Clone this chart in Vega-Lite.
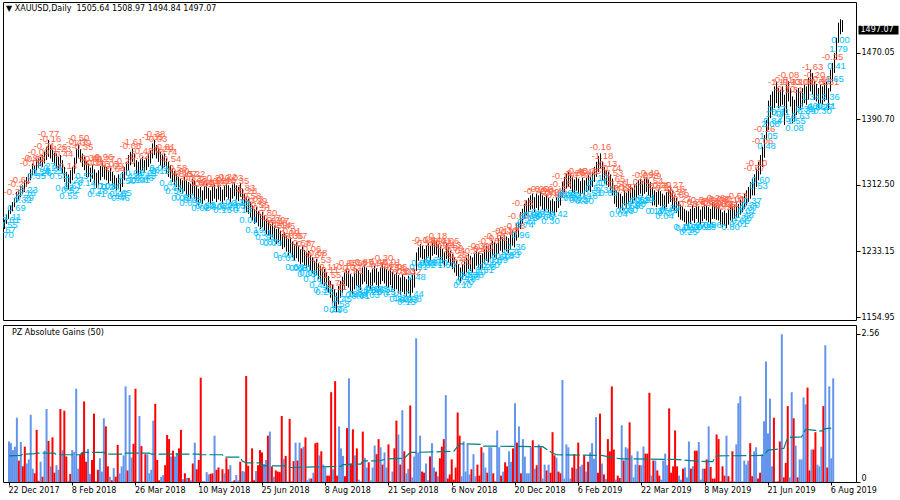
{
"$schema":"https://vega.github.io/schema/vega-lite/v6.json",
"padding":{"left":2,"top":1,"right":0,"bottom":0},
"background":"white",
"config":{"view":{"stroke":"black","strokeWidth":1},"axis":{"labelFont":"DejaVu Sans","labelFontSize":8,"labelColor":"black","tickColor":"black","domainColor":"black","grid":false},"concat":{"spacing":2}},
"datasets":{
"bars":[
{"i":0,"h":1271,"l":1260,"g":0.70,"s":"b"},{"i":1,"h":1277,"l":1266,"g":0.67,"s":"b"},{"i":2,"h":1283,"l":1272,"g":0.55,"s":"b"},{"i":3,"h":1288,"l":1278,"g":0.61,"s":"b"},{"i":4,"h":1292,"l":1281,"g":1.11,"s":"b"},{"i":5,"h":1297,"l":1286,"g":0.37,"s":"r"},{"i":6,"h":1304,"l":1292,"g":0.69,"s":"b"},{"i":7,"h":1306,"l":1295,"g":0.27,"s":"r"},{"i":8,"h":1311,"l":1298,"g":0.61,"s":"r"},{"i":9,"h":1312,"l":1302,"g":0.32,"s":"b"},
{"i":10,"h":1318,"l":1304,"g":0.39,"s":"b"},{"i":11,"h":1322,"l":1310,"g":1.16,"s":"b"},{"i":12,"h":1326,"l":1314,"g":0.23,"s":"b"},{"i":13,"h":1331,"l":1318,"g":0.15,"s":"r"},{"i":14,"h":1338,"l":1324,"g":0.90,"s":"r"},{"i":15,"h":1336,"l":1326,"g":0.02,"s":"r"},{"i":16,"h":1343,"l":1330,"g":0.35,"s":"b"},{"i":17,"h":1344,"l":1333,"g":0.09,"s":"r"},{"i":18,"h":1346,"l":1335,"g":0.54,"s":"b"},{"i":19,"h":1348,"l":1334,"g":1.26,"s":"b"},
{"i":20,"h":1352,"l":1338,"g":0.71,"s":"r"},{"i":21,"h":1358,"l":1342,"g":0.27,"s":"b"},{"i":22,"h":1366,"l":1346,"g":0.77,"s":"r"},{"i":23,"h":1360,"l":1344,"g":0.16,"s":"r"},{"i":24,"h":1356,"l":1340,"g":0.29,"s":"b"},{"i":25,"h":1351,"l":1336,"g":0.21,"s":"b"},{"i":26,"h":1350,"l":1333,"g":1.26,"s":"r"},{"i":27,"h":1346,"l":1330,"g":0.55,"s":"b"},{"i":28,"h":1348,"l":1332,"g":1.23,"s":"r"},{"i":29,"h":1342,"l":1326,"g":0.44,"s":"r"},
{"i":30,"h":1334,"l":1316,"g":0.02,"s":"b"},{"i":31,"h":1328,"l":1310,"g":0.14,"s":"r"},{"i":32,"h":1325,"l":1307,"g":0.55,"s":"b"},{"i":33,"h":1330,"l":1314,"g":0.52,"s":"b"},{"i":34,"h":1334,"l":1318,"g":1.61,"s":"b"},{"i":35,"h":1345,"l":1326,"g":0.23,"s":"b"},{"i":36,"h":1356,"l":1338,"g":0.47,"s":"r"},{"i":37,"h":1361,"l":1345,"g":0.50,"s":"r"},{"i":38,"h":1355,"l":1340,"g":1.39,"s":"r"},{"i":39,"h":1350,"l":1334,"g":0.35,"s":"r"},
{"i":40,"h":1346,"l":1330,"g":0.57,"s":"b"},{"i":41,"h":1341,"l":1322,"g":0.14,"s":"b"},{"i":42,"h":1338,"l":1322,"g":0.38,"s":"r"},{"i":43,"h":1333,"l":1316,"g":1.18,"s":"r"},{"i":44,"h":1336,"l":1320,"g":0.01,"s":"r"},{"i":45,"h":1331,"l":1313,"g":0.21,"s":"r"},{"i":46,"h":1327,"l":1309,"g":0.41,"s":"b"},{"i":47,"h":1330,"l":1312,"g":0.18,"s":"b"},{"i":48,"h":1335,"l":1318,"g":1.10,"s":"b"},{"i":49,"h":1339,"l":1322,"g":0.96,"s":"r"},
{"i":50,"h":1336,"l":1319,"g":0.27,"s":"r"},{"i":51,"h":1334,"l":1318,"g":0.09,"s":"b"},{"i":52,"h":1330,"l":1314,"g":0.03,"s":"r"},{"i":53,"h":1333,"l":1317,"g":0.24,"s":"b"},{"i":54,"h":1328,"l":1312,"g":0.09,"s":"r"},{"i":55,"h":1324,"l":1308,"g":0.64,"s":"r"},{"i":56,"h":1321,"l":1306,"g":0.15,"s":"b"},{"i":57,"h":1325,"l":1309,"g":0.27,"s":"b"},{"i":58,"h":1320,"l":1304,"g":0.46,"s":"b"},{"i":59,"h":1328,"l":1310,"g":1.65,"s":"b"},
{"i":60,"h":1334,"l":1318,"g":0.20,"s":"r"},{"i":61,"h":1340,"l":1324,"g":1.50,"s":"b"},{"i":62,"h":1348,"l":1330,"g":0.42,"s":"b"},{"i":63,"h":1352,"l":1336,"g":0.66,"s":"r"},{"i":64,"h":1356,"l":1340,"g":1.61,"s":"r"},{"i":65,"h":1350,"l":1334,"g":0.01,"s":"b"},{"i":66,"h":1342,"l":1326,"g":1.14,"s":"b"},{"i":67,"h":1340,"l":1324,"g":0.62,"s":"r"},{"i":68,"h":1343,"l":1326,"g":0.01,"s":"b"},{"i":69,"h":1346,"l":1330,"g":0.48,"s":"r"},
{"i":70,"h":1342,"l":1328,"g":0.48,"s":"b"},{"i":71,"h":1345,"l":1330,"g":0.15,"s":"b"},{"i":72,"h":1350,"l":1334,"g":0.21,"s":"b"},{"i":73,"h":1354,"l":1338,"g":1.06,"s":"b"},{"i":74,"h":1362,"l":1344,"g":1.35,"s":"r"},{"i":75,"h":1366,"l":1348,"g":0.38,"s":"r"},{"i":76,"h":1360,"l":1344,"g":0.03,"s":"r"},{"i":77,"h":1356,"l":1340,"g":0.09,"s":"b"},{"i":78,"h":1352,"l":1336,"g":0.12,"s":"b"},{"i":79,"h":1348,"l":1332,"g":0.29,"s":"r"},
{"i":80,"h":1350,"l":1334,"g":0.81,"s":"r"},{"i":81,"h":1344,"l":1326,"g":0.74,"s":"r"},{"i":82,"h":1340,"l":1322,"g":0.44,"s":"b"},{"i":83,"h":1336,"l":1320,"g":0.54,"s":"r"},{"i":84,"h":1332,"l":1316,"g":0.44,"s":"b"},{"i":85,"h":1329,"l":1312,"g":0.50,"s":"b"},{"i":86,"h":1326,"l":1310,"g":0.58,"s":"r"},{"i":87,"h":1322,"l":1306,"g":0.90,"s":"r"},{"i":88,"h":1320,"l":1304,"g":0.05,"s":"b"},{"i":89,"h":1318,"l":1302,"g":0.15,"s":"r"},
{"i":90,"h":1322,"l":1305,"g":0.07,"s":"b"},{"i":91,"h":1318,"l":1300,"g":0.07,"s":"r"},{"i":92,"h":1316,"l":1298,"g":0.03,"s":"b"},{"i":93,"h":1314,"l":1296,"g":0.32,"s":"r"},{"i":94,"h":1320,"l":1302,"g":0.68,"s":"b"},{"i":95,"h":1318,"l":1296,"g":0.22,"s":"r"},{"i":96,"h":1312,"l":1292,"g":0.38,"s":"r"},{"i":97,"h":1308,"l":1288,"g":1.80,"s":"r"},{"i":98,"h":1310,"l":1292,"g":0.02,"s":"b"},{"i":99,"h":1306,"l":1290,"g":0.01,"s":"r"},
{"i":100,"h":1311,"l":1294,"g":0.17,"s":"b"},{"i":101,"h":1314,"l":1296,"g":0.13,"s":"b"},{"i":102,"h":1309,"l":1292,"g":0.14,"s":"r"},{"i":103,"h":1306,"l":1289,"g":0.15,"s":"r"},{"i":104,"h":1310,"l":1293,"g":0.80,"s":"b"},{"i":105,"h":1313,"l":1296,"g":0.21,"s":"r"},{"i":106,"h":1308,"l":1292,"g":0.25,"s":"r"},{"i":107,"h":1312,"l":1295,"g":0.02,"s":"b"},{"i":108,"h":1310,"l":1293,"g":0.22,"s":"r"},{"i":109,"h":1307,"l":1290,"g":0.15,"s":"b"},
{"i":110,"h":1311,"l":1294,"g":0.41,"s":"r"},{"i":111,"h":1315,"l":1298,"g":0.22,"s":"r"},{"i":112,"h":1312,"l":1296,"g":0.29,"s":"b"},{"i":113,"h":1309,"l":1292,"g":0.01,"s":"b"},{"i":114,"h":1313,"l":1296,"g":0.03,"s":"r"},{"i":115,"h":1316,"l":1299,"g":0.12,"s":"b"},{"i":116,"h":1312,"l":1295,"g":0.03,"s":"b"},{"i":117,"h":1310,"l":1293,"g":0.35,"s":"r"},{"i":118,"h":1315,"l":1298,"g":0.19,"s":"b"},{"i":119,"h":1308,"l":1290,"g":0.18,"s":"b"},
{"i":120,"h":1302,"l":1284,"g":1.83,"s":"r"},{"i":121,"h":1298,"l":1280,"g":0.28,"s":"r"},{"i":122,"h":1296,"l":1278,"g":0.01,"s":"b"},{"i":123,"h":1292,"l":1274,"g":0.58,"s":"r"},{"i":124,"h":1288,"l":1270,"g":0.03,"s":"r"},{"i":125,"h":1284,"l":1266,"g":0.19,"s":"b"},{"i":126,"h":1286,"l":1268,"g":0.29,"s":"r"},{"i":127,"h":1281,"l":1263,"g":0.55,"s":"r"},{"i":128,"h":1278,"l":1260,"g":0.51,"s":"r"},{"i":129,"h":1280,"l":1262,"g":0.31,"s":"b"},
{"i":130,"h":1276,"l":1258,"g":0.38,"s":"b"},{"i":131,"h":1272,"l":1254,"g":0.80,"s":"r"},{"i":132,"h":1270,"l":1252,"g":0.87,"s":"b"},{"i":133,"h":1266,"l":1248,"g":0.27,"s":"r"},{"i":134,"h":1268,"l":1250,"g":0.09,"s":"b"},{"i":135,"h":1264,"l":1245,"g":0.20,"s":"r"},{"i":136,"h":1260,"l":1242,"g":0.18,"s":"r"},{"i":137,"h":1262,"l":1244,"g":0.17,"s":"r"},{"i":138,"h":1258,"l":1240,"g":1.14,"s":"r"},{"i":139,"h":1254,"l":1236,"g":0.40,"s":"b"},
{"i":140,"h":1256,"l":1238,"g":0.45,"s":"r"},{"i":141,"h":1252,"l":1233,"g":0.01,"s":"b"},{"i":142,"h":1248,"l":1228,"g":1.09,"s":"r"},{"i":143,"h":1250,"l":1231,"g":0.01,"s":"r"},{"i":144,"h":1245,"l":1226,"g":0.36,"s":"r"},{"i":145,"h":1242,"l":1222,"g":0.68,"s":"b"},{"i":146,"h":1244,"l":1225,"g":0.37,"s":"r"},{"i":147,"h":1240,"l":1221,"g":0.68,"s":"b"},{"i":148,"h":1236,"l":1218,"g":0.58,"s":"r"},{"i":149,"h":1239,"l":1220,"g":0.61,"s":"b"},
{"i":150,"h":1235,"l":1216,"g":0.77,"s":"r"},{"i":151,"h":1232,"l":1213,"g":0.03,"s":"b"},{"i":152,"h":1234,"l":1215,"g":0.06,"s":"b"},{"i":153,"h":1229,"l":1210,"g":0.06,"s":"r"},{"i":154,"h":1226,"l":1207,"g":0.16,"s":"b"},{"i":155,"h":1222,"l":1203,"g":0.67,"s":"r"},{"i":156,"h":1224,"l":1205,"g":0.68,"s":"r"},{"i":157,"h":1219,"l":1200,"g":0.46,"s":"b"},{"i":158,"h":1216,"l":1197,"g":0.53,"s":"r"},{"i":159,"h":1214,"l":1194,"g":0.30,"s":"b"},
{"i":160,"h":1212,"l":1192,"g":0.25,"s":"b"},{"i":161,"h":1208,"l":1188,"g":0.11,"s":"r"},{"i":162,"h":1204,"l":1184,"g":0.11,"s":"r"},{"i":163,"h":1198,"l":1178,"g":1.55,"s":"r"},{"i":164,"h":1194,"l":1172,"g":0.22,"s":"b"},{"i":165,"h":1188,"l":1166,"g":1.74,"s":"r"},{"i":166,"h":1184,"l":1161,"g":0.11,"s":"r"},{"i":167,"h":1192,"l":1170,"g":0.96,"s":"b"},{"i":168,"h":1198,"l":1178,"g":0.58,"s":"b"},{"i":169,"h":1203,"l":1184,"g":0.45,"s":"b"},
{"i":170,"h":1208,"l":1188,"g":0.10,"s":"r"},{"i":171,"h":1212,"l":1192,"g":0.93,"s":"r"},{"i":172,"h":1210,"l":1190,"g":1.79,"s":"b"},{"i":173,"h":1206,"l":1186,"g":0.32,"s":"r"},{"i":174,"h":1203,"l":1182,"g":0.91,"s":"r"},{"i":175,"h":1208,"l":1188,"g":0.46,"s":"b"},{"i":176,"h":1212,"l":1192,"g":0.58,"s":"r"},{"i":177,"h":1210,"l":1190,"g":0.04,"s":"b"},{"i":178,"h":1206,"l":1187,"g":0.01,"s":"b"},{"i":179,"h":1214,"l":1194,"g":0.87,"s":"r"},
{"i":180,"h":1217,"l":1197,"g":0.42,"s":"b"},{"i":181,"h":1214,"l":1194,"g":0.25,"s":"b"},{"i":182,"h":1211,"l":1191,"g":0.34,"s":"r"},{"i":183,"h":1208,"l":1188,"g":0.03,"s":"b"},{"i":184,"h":1212,"l":1192,"g":0.25,"s":"b"},{"i":185,"h":1216,"l":1196,"g":0.63,"s":"b"},{"i":186,"h":1213,"l":1193,"g":0.48,"s":"r"},{"i":187,"h":1209,"l":1189,"g":0.74,"s":"r"},{"i":188,"h":1214,"l":1194,"g":0.60,"s":"b"},{"i":189,"h":1218,"l":1198,"g":0.30,"s":"r"},
{"i":190,"h":1215,"l":1195,"g":0.51,"s":"b"},{"i":191,"h":1212,"l":1192,"g":0.25,"s":"b"},{"i":192,"h":1210,"l":1190,"g":0.65,"s":"r"},{"i":193,"h":1213,"l":1193,"g":0.01,"s":"r"},{"i":194,"h":1209,"l":1189,"g":0.18,"s":"b"},{"i":195,"h":1206,"l":1186,"g":0.58,"s":"r"},{"i":196,"h":1208,"l":1188,"g":1.06,"s":"r"},{"i":197,"h":1205,"l":1184,"g":0.82,"s":"b"},{"i":198,"h":1202,"l":1181,"g":0.30,"s":"r"},{"i":199,"h":1206,"l":1185,"g":1.24,"s":"b"},
{"i":200,"h":1203,"l":1182,"g":0.53,"s":"r"},{"i":201,"h":1200,"l":1180,"g":0.15,"s":"b"},{"i":202,"h":1204,"l":1183,"g":0.23,"s":"b"},{"i":203,"h":1201,"l":1179,"g":1.32,"s":"r"},{"i":204,"h":1205,"l":1184,"g":0.08,"s":"b"},{"i":205,"h":1212,"l":1190,"g":0.44,"s":"b"},{"i":206,"h":1232,"l":1210,"g":2.48,"s":"b"},{"i":207,"h":1238,"l":1222,"g":0.51,"s":"b"},{"i":208,"h":1242,"l":1226,"g":0.80,"s":"b"},{"i":209,"h":1240,"l":1224,"g":0.18,"s":"r"},
{"i":210,"h":1236,"l":1220,"g":0.16,"s":"r"},{"i":211,"h":1240,"l":1224,"g":0.32,"s":"b"},{"i":212,"h":1243,"l":1227,"g":0.03,"s":"b"},{"i":213,"h":1240,"l":1223,"g":0.44,"s":"r"},{"i":214,"h":1244,"l":1228,"g":0.67,"s":"b"},{"i":215,"h":1247,"l":1230,"g":0.25,"s":"b"},{"i":216,"h":1245,"l":1229,"g":0.18,"s":"r"},{"i":217,"h":1242,"l":1226,"g":0.10,"s":"b"},{"i":218,"h":1239,"l":1223,"g":0.41,"s":"r"},{"i":219,"h":1236,"l":1219,"g":0.61,"s":"r"},
{"i":220,"h":1232,"l":1215,"g":0.74,"s":"r"},{"i":221,"h":1242,"l":1224,"g":1.50,"s":"b"},{"i":222,"h":1238,"l":1220,"g":0.06,"s":"r"},{"i":223,"h":1234,"l":1216,"g":0.13,"s":"r"},{"i":224,"h":1230,"l":1212,"g":0.39,"s":"r"},{"i":225,"h":1226,"l":1208,"g":0.04,"s":"r"},{"i":226,"h":1222,"l":1204,"g":0.25,"s":"r"},{"i":227,"h":1218,"l":1199,"g":1.20,"s":"r"},{"i":228,"h":1214,"l":1196,"g":0.80,"s":"r"},{"i":229,"h":1218,"l":1200,"g":0.10,"s":"b"},
{"i":230,"h":1222,"l":1204,"g":0.70,"s":"b"},{"i":231,"h":1226,"l":1208,"g":0.18,"s":"b"},{"i":232,"h":1230,"l":1212,"g":0.65,"s":"b"},{"i":233,"h":1228,"l":1210,"g":0.13,"s":"b"},{"i":234,"h":1226,"l":1208,"g":0.22,"s":"r"},{"i":235,"h":1230,"l":1212,"g":0.48,"s":"b"},{"i":236,"h":1234,"l":1216,"g":0.10,"s":"b"},{"i":237,"h":1232,"l":1214,"g":0.30,"s":"r"},{"i":238,"h":1229,"l":1211,"g":0.11,"s":"r"},{"i":239,"h":1231,"l":1213,"g":0.60,"s":"r"},
{"i":240,"h":1236,"l":1218,"g":0.51,"s":"b"},{"i":241,"h":1240,"l":1222,"g":0.25,"s":"b"},{"i":242,"h":1238,"l":1220,"g":0.16,"s":"r"},{"i":243,"h":1242,"l":1224,"g":0.60,"s":"b"},{"i":244,"h":1246,"l":1228,"g":0.60,"s":"b"},{"i":245,"h":1244,"l":1226,"g":0.15,"s":"r"},{"i":246,"h":1242,"l":1224,"g":0.01,"s":"r"},{"i":247,"h":1248,"l":1230,"g":0.89,"s":"b"},{"i":248,"h":1252,"l":1234,"g":0.60,"s":"b"},{"i":249,"h":1250,"l":1232,"g":0.11,"s":"r"},
{"i":250,"h":1253,"l":1235,"g":0.18,"s":"b"},{"i":251,"h":1251,"l":1233,"g":0.34,"s":"r"},{"i":252,"h":1249,"l":1231,"g":0.27,"s":"r"},{"i":253,"h":1254,"l":1236,"g":0.53,"s":"b"},{"i":254,"h":1258,"l":1240,"g":0.35,"s":"b"},{"i":255,"h":1256,"l":1238,"g":0.58,"s":"r"},{"i":256,"h":1266,"l":1246,"g":1.36,"s":"b"},{"i":257,"h":1268,"l":1250,"g":0.68,"s":"r"},{"i":258,"h":1280,"l":1260,"g":0.96,"s":"b"},{"i":259,"h":1284,"l":1266,"g":0.15,"s":"r"},
{"i":260,"h":1290,"l":1272,"g":0.74,"s":"b"},{"i":261,"h":1294,"l":1276,"g":0.44,"s":"b"},{"i":262,"h":1297,"l":1280,"g":0.15,"s":"b"},{"i":263,"h":1300,"l":1283,"g":0.15,"s":"b"},{"i":264,"h":1302,"l":1284,"g":0.60,"s":"b"},{"i":265,"h":1298,"l":1280,"g":0.72,"s":"r"},{"i":266,"h":1302,"l":1285,"g":0.23,"s":"b"},{"i":267,"h":1300,"l":1282,"g":0.29,"s":"r"},{"i":268,"h":1304,"l":1287,"g":0.65,"s":"b"},{"i":269,"h":1300,"l":1283,"g":0.60,"s":"r"},
{"i":270,"h":1298,"l":1281,"g":0.06,"s":"b"},{"i":271,"h":1301,"l":1284,"g":0.30,"s":"b"},{"i":272,"h":1297,"l":1280,"g":0.20,"s":"r"},{"i":273,"h":1294,"l":1277,"g":0.30,"s":"b"},{"i":274,"h":1296,"l":1279,"g":0.16,"s":"r"},{"i":275,"h":1293,"l":1276,"g":0.86,"s":"r"},{"i":276,"h":1298,"l":1280,"g":0.46,"s":"r"},{"i":277,"h":1303,"l":1285,"g":0.42,"s":"b"},{"i":278,"h":1306,"l":1288,"g":0.18,"s":"r"},{"i":279,"h":1316,"l":1297,"g":0.15,"s":"r"},
{"i":280,"h":1322,"l":1304,"g":1.76,"s":"b"},{"i":281,"h":1326,"l":1308,"g":0.06,"s":"b"},{"i":282,"h":1328,"l":1310,"g":0.65,"s":"b"},{"i":283,"h":1325,"l":1308,"g":0.60,"s":"b"},{"i":284,"h":1322,"l":1304,"g":0.06,"s":"b"},{"i":285,"h":1319,"l":1302,"g":0.25,"s":"r"},{"i":286,"h":1322,"l":1305,"g":0.48,"s":"r"},{"i":287,"h":1320,"l":1302,"g":0.23,"s":"b"},{"i":288,"h":1317,"l":1299,"g":0.68,"s":"r"},{"i":289,"h":1321,"l":1303,"g":0.27,"s":"b"},
{"i":290,"h":1318,"l":1300,"g":0.30,"s":"b"},{"i":291,"h":1321,"l":1304,"g":0.46,"s":"r"},{"i":292,"h":1324,"l":1306,"g":0.18,"s":"b"},{"i":293,"h":1322,"l":1304,"g":0.35,"s":"r"},{"i":294,"h":1328,"l":1310,"g":0.51,"s":"b"},{"i":295,"h":1334,"l":1316,"g":0.67,"s":"b"},{"i":296,"h":1340,"l":1322,"g":0.40,"s":"b"},{"i":297,"h":1347,"l":1328,"g":1.12,"s":"b"},{"i":298,"h":1350,"l":1332,"g":0.16,"s":"r"},{"i":299,"h":1340,"l":1318,"g":1.18,"s":"r"},
{"i":300,"h":1334,"l":1314,"g":0.32,"s":"b"},{"i":301,"h":1330,"l":1312,"g":0.13,"s":"r"},{"i":302,"h":1328,"l":1310,"g":0.05,"s":"b"},{"i":303,"h":1325,"l":1306,"g":0.74,"s":"r"},{"i":304,"h":1320,"l":1300,"g":0.53,"s":"r"},{"i":305,"h":1312,"l":1290,"g":1.65,"s":"r"},{"i":306,"h":1306,"l":1286,"g":0.56,"s":"r"},{"i":307,"h":1304,"l":1285,"g":0.04,"s":"b"},{"i":308,"h":1302,"l":1284,"g":0.11,"s":"r"},{"i":309,"h":1299,"l":1282,"g":0.07,"s":"r"},
{"i":310,"h":1306,"l":1288,"g":0.98,"s":"b"},{"i":311,"h":1303,"l":1285,"g":0.37,"s":"r"},{"i":312,"h":1308,"l":1290,"g":0.60,"s":"b"},{"i":313,"h":1312,"l":1294,"g":0.58,"s":"b"},{"i":314,"h":1309,"l":1290,"g":1.03,"s":"r"},{"i":315,"h":1312,"l":1294,"g":0.46,"s":"b"},{"i":316,"h":1315,"l":1297,"g":0.08,"s":"b"},{"i":317,"h":1318,"l":1300,"g":0.30,"s":"b"},{"i":318,"h":1320,"l":1302,"g":0.53,"s":"b"},{"i":319,"h":1317,"l":1299,"g":0.29,"s":"r"},
{"i":320,"h":1320,"l":1302,"g":0.29,"s":"b"},{"i":321,"h":1322,"l":1304,"g":0.61,"s":"b"},{"i":322,"h":1319,"l":1300,"g":0.49,"s":"r"},{"i":323,"h":1316,"l":1297,"g":0.49,"s":"r"},{"i":324,"h":1310,"l":1288,"g":1.54,"s":"r"},{"i":325,"h":1306,"l":1288,"g":0.11,"s":"b"},{"i":326,"h":1304,"l":1286,"g":0.37,"s":"r"},{"i":327,"h":1307,"l":1289,"g":0.37,"s":"b"},{"i":328,"h":1305,"l":1287,"g":0.20,"s":"r"},{"i":329,"h":1302,"l":1285,"g":0.11,"s":"r"},
{"i":330,"h":1300,"l":1283,"g":0.04,"s":"b"},{"i":331,"h":1304,"l":1286,"g":0.37,"s":"b"},{"i":332,"h":1307,"l":1290,"g":0.49,"s":"b"},{"i":333,"h":1310,"l":1292,"g":0.29,"s":"b"},{"i":334,"h":1305,"l":1284,"g":1.27,"s":"r"},{"i":335,"h":1300,"l":1282,"g":0.16,"s":"r"},{"i":336,"h":1297,"l":1279,"g":0.27,"s":"r"},{"i":337,"h":1293,"l":1274,"g":0.89,"s":"r"},{"i":338,"h":1289,"l":1271,"g":0.27,"s":"r"},{"i":339,"h":1287,"l":1270,"g":0.11,"s":"b"},
{"i":340,"h":1284,"l":1268,"g":0.04,"s":"b"},{"i":341,"h":1282,"l":1266,"g":0.23,"s":"r"},{"i":342,"h":1281,"l":1264,"g":0.25,"s":"b"},{"i":343,"h":1284,"l":1266,"g":0.08,"s":"b"},{"i":344,"h":1288,"l":1270,"g":0.70,"s":"b"},{"i":345,"h":1285,"l":1267,"g":0.23,"s":"r"},{"i":346,"h":1290,"l":1272,"g":0.27,"s":"b"},{"i":347,"h":1287,"l":1268,"g":0.54,"s":"r"},{"i":348,"h":1283,"l":1265,"g":0.54,"s":"r"},{"i":349,"h":1287,"l":1269,"g":0.69,"s":"b"},
{"i":350,"h":1290,"l":1272,"g":0.04,"s":"b"},{"i":351,"h":1288,"l":1270,"g":0.23,"s":"b"},{"i":352,"h":1286,"l":1268,"g":0.23,"s":"r"},{"i":353,"h":1284,"l":1266,"g":0.39,"s":"r"},{"i":354,"h":1292,"l":1272,"g":0.96,"s":"b"},{"i":355,"h":1290,"l":1272,"g":0.26,"s":"r"},{"i":356,"h":1288,"l":1271,"g":0.06,"s":"r"},{"i":357,"h":1287,"l":1270,"g":0.06,"s":"r"},{"i":358,"h":1283,"l":1265,"g":0.82,"s":"r"},{"i":359,"h":1280,"l":1262,"g":0.74,"s":"r"},
{"i":360,"h":1282,"l":1264,"g":0.01,"s":"r"},{"i":361,"h":1279,"l":1261,"g":0.27,"s":"r"},{"i":362,"h":1283,"l":1265,"g":0.11,"s":"r"},{"i":363,"h":1289,"l":1270,"g":0.80,"s":"b"},{"i":364,"h":1287,"l":1269,"g":0.10,"s":"r"},{"i":365,"h":1288,"l":1272,"g":0.01,"s":"r"},{"i":366,"h":1292,"l":1274,"g":0.53,"s":"r"},{"i":367,"h":1290,"l":1273,"g":0.01,"s":"b"},{"i":368,"h":1295,"l":1277,"g":0.65,"s":"b"},{"i":369,"h":1298,"l":1280,"g":1.36,"s":"b"},
{"i":370,"h":1302,"l":1284,"g":1.48,"s":"b"},{"i":371,"h":1306,"l":1288,"g":0.01,"s":"b"},{"i":372,"h":1310,"l":1292,"g":0.37,"s":"b"},{"i":373,"h":1316,"l":1296,"g":0.30,"s":"b"},{"i":374,"h":1320,"l":1300,"g":0.37,"s":"b"},{"i":375,"h":1325,"l":1300,"g":0.67,"s":"r"},{"i":376,"h":1332,"l":1310,"g":0.10,"s":"r"},{"i":377,"h":1340,"l":1318,"g":0.53,"s":"b"},{"i":378,"h":1348,"l":1325,"g":0.60,"s":"b"},{"i":379,"h":1358,"l":1334,"g":0.06,"s":"r"},
{"i":380,"h":1372,"l":1345,"g":0.16,"s":"r"},{"i":381,"h":1390,"l":1366,"g":0.48,"s":"b"},{"i":382,"h":1413,"l":1378,"g":1.05,"s":"b"},{"i":383,"h":1420,"l":1392,"g":2.08,"s":"b"},{"i":384,"h":1424,"l":1396,"g":0.84,"s":"b"},{"i":385,"h":1430,"l":1404,"g":1.44,"s":"b"},{"i":386,"h":1436,"l":1410,"g":0.27,"s":"b"},{"i":387,"h":1428,"l":1404,"g":1.11,"s":"r"},{"i":388,"h":1426,"l":1406,"g":0.01,"s":"b"},{"i":389,"h":1430,"l":1408,"g":0.01,"s":"r"},
{"i":390,"h":1420,"l":1384,"g":0.70,"s":"r"},{"i":391,"h":1432,"l":1398,"g":2.55,"s":"b"},{"i":392,"h":1436,"l":1412,"g":0.08,"s":"r"},{"i":393,"h":1428,"l":1406,"g":0.33,"s":"r"},{"i":394,"h":1418,"l":1386,"g":1.31,"s":"r"},{"i":395,"h":1414,"l":1388,"g":0.08,"s":"b"},{"i":396,"h":1426,"l":1396,"g":1.55,"s":"b"},{"i":397,"h":1428,"l":1404,"g":1.10,"s":"r"},{"i":398,"h":1424,"l":1402,"g":0.63,"s":"b"},{"i":399,"h":1428,"l":1406,"g":0.08,"s":"r"},
{"i":400,"h":1432,"l":1410,"g":0.39,"s":"b"},{"i":401,"h":1430,"l":1408,"g":0.39,"s":"b"},{"i":402,"h":1440,"l":1414,"g":1.46,"s":"b"},{"i":403,"h":1450,"l":1424,"g":1.34,"s":"b"},{"i":404,"h":1446,"l":1420,"g":1.63,"s":"r"},{"i":405,"h":1436,"l":1414,"g":0.20,"s":"r"},{"i":406,"h":1433,"l":1412,"g":0.56,"s":"b"},{"i":407,"h":1428,"l":1404,"g":0.56,"s":"r"},{"i":408,"h":1432,"l":1410,"g":0.86,"s":"r"},{"i":409,"h":1430,"l":1408,"g":0.30,"s":"b"},
{"i":410,"h":1434,"l":1412,"g":0.27,"s":"b"},{"i":411,"h":1436,"l":1414,"g":0.61,"s":"b"},{"i":412,"h":1428,"l":1402,"g":1.31,"s":"r"},{"i":413,"h":1450,"l":1424,"g":2.36,"s":"b"},{"i":414,"h":1458,"l":1436,"g":0.25,"s":"r"},{"i":415,"h":1470,"l":1446,"g":1.65,"s":"b"},{"i":416,"h":1488,"l":1462,"g":0.41,"s":"b"},{"i":417,"h":1506,"l":1482,"g":1.79,"s":"b"},{"i":418,"h":1510,"l":1492,"g":0.00,"s":"b"},{"i":419,"h":1508.97,"l":1494.84}
],
"avg":[
{"i":0,"a":0.45},{"i":6,"a":0.46},{"i":7,"a":0.48},{"i":13,"a":0.49},{"i":14,"a":0.50},{"i":23,"a":0.50},{"i":24,"a":0.47},{"i":36,"a":0.47},{"i":37,"a":0.51},{"i":48,"a":0.51},{"i":49,"a":0.48},{"i":58,"a":0.48},{"i":59,"a":0.50},{"i":71,"a":0.50},{"i":72,"a":0.48},{"i":96,"a":0.48},{"i":97,"a":0.47},{"i":108,"a":0.47},{"i":109,"a":0.43},{"i":117,"a":0.43},{"i":118,"a":0.36},{"i":120,"a":0.33},{"i":127,"a":0.33},{"i":128,"a":0.28},{"i":141,"a":0.28},{"i":142,"a":0.25},{"i":155,"a":0.26},{"i":168,"a":0.27},{"i":169,"a":0.30},{"i":178,"a":0.31},{"i":179,"a":0.36},{"i":188,"a":0.37},{"i":191,"a":0.40},{"i":200,"a":0.41},{"i":203,"a":0.51},{"i":216,"a":0.52},{"i":225,"a":0.53},{"i":228,"a":0.66},{"i":239,"a":0.65},{"i":240,"a":0.62},{"i":270,"a":0.61},{"i":275,"a":0.50},{"i":277,"a":0.47},{"i":300,"a":0.46},{"i":305,"a":0.42},{"i":310,"a":0.40},{"i":337,"a":0.39},{"i":348,"a":0.36},{"i":356,"a":0.35},{"i":358,"a":0.45},{"i":382,"a":0.46},{"i":384,"a":0.55},{"i":392,"a":0.58},{"i":394,"a":0.77},{"i":401,"a":0.78},{"i":403,"a":0.91},{"i":408,"a":0.89},{"i":411,"a":0.88},{"i":413,"a":0.92},{"i":416,"a":0.93}
]
},
"vconcat":[
{
"width":853,"height":318,
"data":{"name":"bars"},
"encoding":{"x":{"field":"i","type":"quantitative","scale":{"domain":[-0.75,425.75],"nice":false,"zero":false},"axis":null}},
"layer":[
{"mark":{"type":"rule","color":"black","strokeWidth":1},
 "encoding":{"y":{"field":"l","type":"quantitative","scale":{"domain":[1151.4,1530.6],"nice":false,"zero":false},
   "axis":{"orient":"right","values":[1154.95,1194.95,1233.15,1272.25,1312.5,1351.6,1390.7,1430.95,1470.05,1509.15],"format":".2f","tickSize":4,"labelPadding":1,"domain":false,"title":null,"labelFlush":false,"labelOverlap":false}},
  "y2":{"field":"h"}}},
{"transform":[{"filter":"datum.s == 'r'"}],
 "mark":{"type":"text","clip":true,"text":{"expr":"'-' + format(datum.g, '.2f')"},"baseline":"bottom","dy":-1,"font":"Liberation Sans","fontSize":9.5,"color":"#FF6347"},
 "encoding":{"y":{"field":"h","type":"quantitative","scale":{"domain":[1151.4,1530.6],"nice":false,"zero":false}}}},
{"transform":[{"filter":"datum.s == 'b'"}],
 "mark":{"type":"text","clip":true,"baseline":"top","dy":1,"font":"Liberation Sans","fontSize":9.5,"color":"#00BFFF"},
 "encoding":{"y":{"field":"l","type":"quantitative","scale":{"domain":[1151.4,1530.6],"nice":false,"zero":false}},"text":{"field":"g","type":"quantitative","format":".2f"}}},
{"data":{"values":[{"i":427,"i2":447,"p":1491.8,"p2":1502.4}]},
 "mark":{"type":"rect","color":"black"},
 "encoding":{"x2":{"field":"i2"},"y":{"field":"p","type":"quantitative","scale":{"domain":[1151.4,1530.6],"nice":false,"zero":false}},"y2":{"field":"p2"}}},
{"data":{"values":[{"i":427,"p":1497.07,"t":"1497.07"}]},
 "mark":{"type":"text","color":"white","align":"left","baseline":"middle","dx":2,"font":"DejaVu Sans","fontSize":8},
 "encoding":{"y":{"field":"p","type":"quantitative","scale":{"domain":[1151.4,1530.6],"nice":false,"zero":false}},"text":{"field":"t"}}},
{"data":{"values":[{"i":-0.75,"p":1530.6,"t":"▼ XAUUSD,Daily\u00a0\u00a01505.64 1508.97 1494.84 1497.07"}]},
 "mark":{"type":"text","color":"black","align":"left","baseline":"top","dx":3,"dy":3,"font":"DejaVu Sans","fontSize":8},
 "encoding":{"y":{"field":"p","type":"quantitative","scale":{"domain":[1151.4,1530.6],"nice":false,"zero":false}},"text":{"field":"t"}}}
]
},
{
"width":853,"height":157,
"encoding":{"x":{"field":"i","type":"quantitative","scale":{"domain":[-0.5,426],"nice":false,"zero":false},
  "axis":{"values":[0,32,64,96,128,160,192,224,256,288,320,352,384,416],"labelExpr":"['22 Dec 2017','8 Feb 2018','26 Mar 2018','10 May 2018','25 Jun 2018','8 Aug 2018','21 Sep 2018','6 Nov 2018','20 Dec 2018','6 Feb 2019','22 Mar 2019','8 May 2019','21 Jun 2019','6 Aug 2019'][round(datum.value/32)]","labelAlign":"left","labelOffset":-1,"tickSize":3,"labelPadding":1,"domain":false,"title":null,"labelFlush":false,"labelOverlap":false,"labelBound":false}}},
"layer":[
{"data":{"name":"bars"},
 "mark":{"type":"bar","width":2},
 "encoding":{"y":{"field":"g","type":"quantitative","scale":{"domain":[0,2.71],"nice":false},
   "axis":{"orient":"right","values":[0,2.56],"format":".2~f","tickSize":4,"labelPadding":1,"domain":false,"title":null,"labelFlush":false,"labelBaseline":{"condition":{"test":"datum.value == 0","value":"bottom"},"value":"middle"}}},
  "color":{"field":"s","type":"nominal","scale":{"domain":["b","r"],"range":["#6495ED","#FF0000"]},"legend":null}}},
{"data":{"name":"avg"},
 "mark":{"type":"line","color":"#008080","strokeWidth":1.2,"strokeDash":[14,3]},
 "encoding":{"y":{"field":"a","type":"quantitative","scale":{"domain":[0,2.71],"nice":false}}}},
{"data":{"values":[{"i":-0.5,"a":2.71,"t":"PZ Absolute Gains (50)"}]},
 "mark":{"type":"text","color":"black","align":"left","baseline":"top","dx":4,"dy":4,"font":"DejaVu Sans","fontSize":8},
 "encoding":{"y":{"field":"a","type":"quantitative","scale":{"domain":[0,2.71],"nice":false}},"text":{"field":"t"}}}
]
}
]
}
